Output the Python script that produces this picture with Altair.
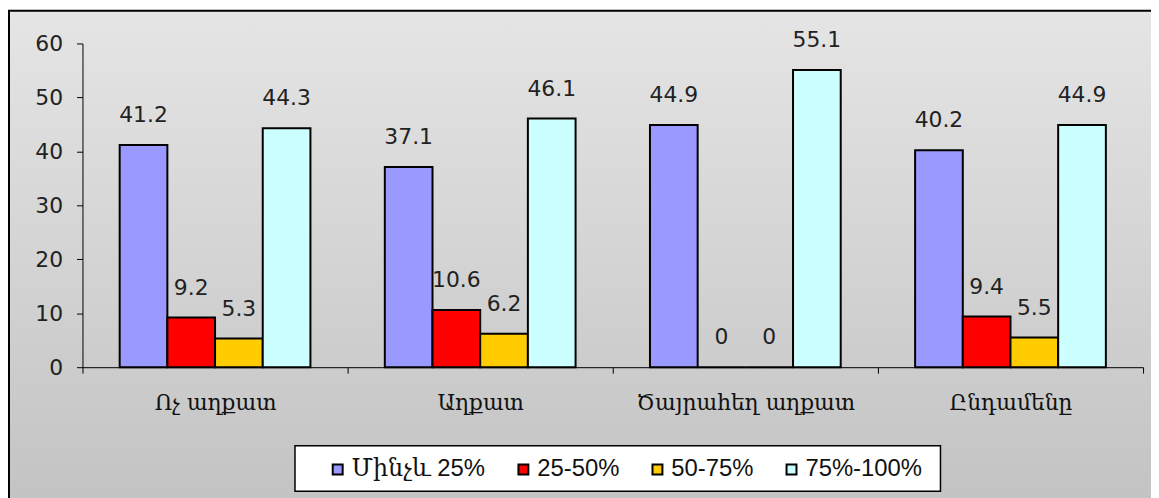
import altair as alt
import pandas as pd

categories = ["Ոչ աղքատ", "Աղքատ", "Ծայրահեղ աղքատ", "Ընդամենը"]
series = ["Մինչև 25%", "25-50%", "50-75%", "75%-100%"]
v_lt25 = [41.2, 37.1, 44.9, 40.2]
v_25_50 = [9.2, 10.6, 0, 9.4]
v_50_75 = [5.3, 6.2, 0, 5.5]
v_75_100 = [44.3, 46.1, 55.1, 44.9]
colors = ["#9999ff", "#ff0000", "#ffcc00", "#ccffff"]
y_ticks = [0, 10, 20, 30, 40, 50, 60]

rows = []
for s, vals in zip(series, [v_lt25, v_25_50, v_50_75, v_75_100]):
    for c, v in zip(categories, vals):
        rows.append({"category": c, "series": s, "value": v})
df = pd.DataFrame(rows)

one = pd.DataFrame({"k": [0]})

bg = alt.Chart(one).mark_rect(
    fill=alt.LinearGradient(
        gradient="linear",
        stops=[alt.GradientStop(color="#e5e5e5", offset=0),
               alt.GradientStop(color="#c3c3c3", offset=1)],
        x1=0, x2=0, y1=0, y2=1),
    stroke="black", strokeWidth=2,
).encode(x=alt.value(-74), x2=alt.value(1200), y=alt.value(-33), y2=alt.value(462))

box = alt.Chart(one).mark_rect(fill="white", stroke="black", strokeWidth=1.5).encode(
    x=alt.value(214), x2=alt.value(864), y=alt.value(405), y2=alt.value(451))

base = alt.Chart(df)

xenc = alt.X("category:N", sort=categories,
             scale=alt.Scale(paddingInner=0, paddingOuter=0),
             axis=alt.Axis(title=None, labelAngle=0, labelFont="DejaVu Serif",
                           labelFontSize=22, labelColor="#111", tickBand="extent",
                           ticks=True, tickSize=6, tickColor="black", zindex=1,
                           labelLimit=400,
                           domainColor="black", domainWidth=1, labelPadding=20))
xoff = alt.XOffset("series:N", sort=series,
                   scale=alt.Scale(paddingInner=0, paddingOuter=0.78))
yenc = alt.Y("value:Q", scale=alt.Scale(domain=[0, 60]),
             axis=alt.Axis(title=None, values=y_ticks, grid=False, tickSize=6, zindex=1,
                           tickColor="black", domainColor="black", labelPadding=14,
                           labelFont="DejaVu Sans", labelFontSize=22, labelColor="#222"))

bars = base.mark_bar().encode(
    x=xenc, xOffset=xoff, y=yenc,
    stroke=alt.value("black"), strokeWidth=alt.value(2),
    color=alt.Color("series:N", sort=series,
                    scale=alt.Scale(domain=series, range=colors),
                    legend=alt.Legend(title=None, orient="none", legendX=245, legendY=417,
                                      direction="horizontal", symbolType="square",
                                      symbolSize=100, zindex=2,
                                      symbolStrokeColor="black", symbolStrokeWidth=2,
                                      labelFont="'Liberation Sans', 'DejaVu Serif'",
                                      labelFontSize=24, labelColor="#111",
                                      columnPadding=26, labelOffset=2, padding=0)),
)

labels = base.mark_text(baseline="bottom", dy=-18, font="DejaVu Sans", fontSize=22,
                        color="#222").encode(
    x=xenc, xOffset=xoff, y=yenc,
    text=alt.Text("value:Q", format=".1~f"),
)

chart = alt.layer(bg, box, bars, labels).properties(
    width=1068, height=326,
    padding={"left": 75, "top": 34, "right": 8, "bottom": 130},
    autosize="none",
).configure_view(stroke=None).configure(background="white")

chart.save("out.html", embed_options={"renderer": "svg", "actions": False})
